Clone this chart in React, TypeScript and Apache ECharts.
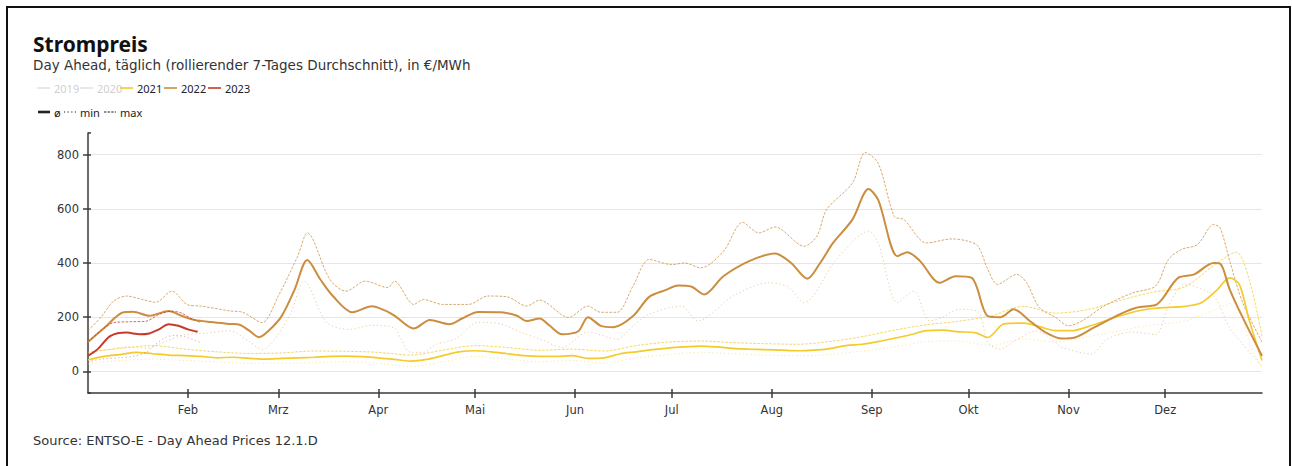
import React, { useEffect, useRef } from 'react';
import * as echarts from 'echarts';

const FONT = '"Noto Sans", "DejaVu Sans", sans-serif';
const WIDE = '"DejaVu Sans", "Noto Sans", sans-serif';
const DAY = 86400000;

const monthLabels = ['Jan', 'Feb', 'Mrz', 'Apr', 'Mai', 'Jun', 'Jul', 'Aug', 'Sep', 'Okt', 'Nov', 'Dez'];
const legendYears = ['2019', '2020', '2021', '2022', '2023'];
const legendActive = [false, false, true, true, true];
const legendKinds = ['ø', 'min', 'max'];

const color2021 = '#f3cb2a';
const color2022 = '#cb8d3e';
const color2023 = '#c93a2a';
const colorInactive = '#e3e3e3';

// [day of year, €/MWh]
const avg2021: [number, number][] = [
  [0, 42], [5, 55], [10, 62], [15, 70], [20, 65], [25, 60], [30, 58], [35, 55], [40, 50], [45, 52],
  [50, 48], [55, 45], [60, 48], [65, 50], [70, 52], [75, 55], [80, 56], [85, 54], [90, 50], [95, 44],
  [100, 38], [105, 44], [110, 58], [115, 72], [120, 76], [125, 72], [130, 65], [135, 58], [140, 55],
  [145, 55], [150, 58], [155, 48], [160, 50], [165, 65], [170, 72], [175, 80], [180, 86], [185, 90],
  [190, 93], [195, 90], [200, 85], [205, 82], [210, 80], [215, 78], [220, 76], [225, 78], [230, 84],
  [235, 95], [240, 100], [245, 110], [250, 122], [255, 135], [260, 150], [265, 152], [270, 146],
  [275, 143], [279, 125], [284, 175], [290, 178], [295, 165], [300, 150], [305, 150], [310, 165],
  [315, 185], [320, 205], [325, 222], [330, 232], [335, 236], [340, 240], [345, 252], [350, 300],
  [354, 345], [357, 320], [360, 190], [364, 40],
];
const min2021: [number, number][] = [
  [0, 28], [10, 40], [20, 45], [30, 40], [40, 35], [50, 30], [60, 30], [70, 32], [80, 35], [90, 30],
  [100, 18], [110, 35], [120, 55], [130, 45], [140, 35], [150, 40], [160, 30], [170, 50], [180, 62],
  [190, 70], [200, 65], [210, 60], [220, 58], [230, 62], [240, 75], [250, 90], [260, 110], [270, 112],
  [280, 95], [290, 120], [300, 108], [310, 128], [320, 150], [330, 172], [340, 185], [350, 230],
  [356, 255], [360, 110], [364, 8],
];
const max2021: [number, number][] = [
  [0, 70], [10, 85], [20, 95], [30, 82], [40, 72], [50, 66], [60, 68], [70, 75], [80, 74], [90, 70],
  [100, 60], [110, 78], [120, 95], [130, 88], [140, 78], [150, 82], [160, 75], [170, 95], [180, 108],
  [190, 112], [200, 106], [210, 102], [220, 100], [230, 110], [240, 128], [250, 152], [260, 172],
  [270, 185], [280, 205], [290, 240], [300, 215], [310, 228], [320, 262], [330, 292], [340, 312],
  [350, 400], [356, 440], [360, 340], [364, 130],
];

const avg2022: [number, number][] = [
  [0, 108], [5, 160], [11, 218], [14, 220], [19, 205], [25, 223], [29, 205], [33, 190], [38, 182],
  [44, 175], [47, 172], [50, 150], [53, 126], [56, 150], [60, 203], [64, 300], [68, 411], [72, 340],
  [76, 277], [82, 218], [88, 240], [92, 225], [95, 206], [101, 158], [106, 190], [112, 174],
  [116, 195], [121, 219], [128, 218], [133, 205], [136, 186], [140, 195], [143, 170], [147, 137],
  [152, 148], [155, 200], [159, 168], [163, 163], [169, 204], [174, 275], [179, 300], [183, 317],
  [187, 313], [191, 284], [197, 351], [205, 407], [213, 435], [218, 400], [223, 342], [227, 400],
  [231, 474], [237, 560], [242, 673], [245, 633], [251, 425], [254, 440], [258, 407], [264, 327],
  [269, 351], [274, 345], [279, 204], [283, 200], [287, 229], [292, 186], [297, 143], [302, 121],
  [306, 125], [312, 162], [320, 211], [325, 235], [331, 245], [333, 266], [338, 345], [343, 358],
  [349, 400], [351, 398], [354, 302], [358, 199], [364, 57],
];
const min2022: [number, number][] = [
  [0, 70], [6, 80], [12, 90], [18, 85], [24, 110], [30, 135], [36, 140], [44, 150], [50, 110],
  [54, 80], [58, 120], [63, 220], [67, 333], [74, 181], [81, 155], [88, 170], [95, 160], [97, 120],
  [100, 70], [104, 70], [108, 100], [114, 120], [121, 181], [128, 175], [135, 140], [140, 120],
  [147, 89], [155, 145], [164, 119], [169, 168], [174, 211], [184, 241], [189, 186], [200, 278],
  [211, 327], [217, 312], [222, 254], [232, 413], [242, 517], [245, 475], [251, 254], [256, 296],
  [261, 186], [265, 200], [270, 229], [276, 220], [279, 107], [283, 82], [287, 110], [294, 149],
  [300, 107], [302, 88], [311, 64], [316, 119], [324, 145], [331, 136], [335, 241], [340, 321],
  [349, 278], [354, 160], [364, 20],
];
const max2022: [number, number][] = [
  [0, 150], [4, 200], [8, 260], [12, 278], [17, 265], [21, 255], [26, 296], [31, 245], [35, 241],
  [44, 223], [48, 218], [54, 180], [59, 278], [65, 425], [68, 511], [75, 339], [80, 296], [86, 333],
  [93, 309], [95, 333], [101, 247], [104, 265], [110, 247], [118, 247], [124, 278], [130, 275],
  [136, 241], [140, 263], [149, 199], [155, 241], [159, 218], [164, 218], [169, 315], [174, 413],
  [181, 394], [185, 400], [190, 382], [197, 443], [203, 550], [208, 511], [213, 533], [222, 462],
  [226, 499], [229, 597], [237, 695], [241, 808], [245, 768], [250, 572], [253, 560], [260, 474],
  [268, 489], [273, 480], [276, 462], [279, 376], [282, 321], [288, 358], [291, 327], [295, 235],
  [300, 199], [304, 168], [309, 192], [315, 241], [324, 290], [331, 315], [335, 413], [339, 450],
  [344, 468], [349, 542], [351, 530], [354, 407], [358, 254], [364, 108],
];

const avg2023: [number, number][] = [
  [0, 57], [3, 82], [7, 131], [12, 143], [16, 137], [19, 140], [22, 155], [25, 174], [28, 168],
  [31, 155], [34, 146],
];
const min2023: [number, number][] = [
  [0, 35], [4, 45], [10, 50], [14, 55], [18, 70], [21, 100], [24, 125], [27, 133], [30, 128],
  [33, 115], [35, 105],
];
const max2023: [number, number][] = [
  [0, 110], [4, 150], [8, 180], [13, 183], [18, 185], [22, 210], [26, 222], [29, 215], [32, 195],
  [35, 180],
];

// day-of-year of each month start (non-leap reference year)
const yearStart = Date.UTC(2022, 0, 1);
const monthStartDays = monthLabels.map((_, m) => Math.round((Date.UTC(2022, m, 1) - yearStart) / DAY));
const tickDays = monthStartDays.slice(1);

type Kind = 'avg' | 'min' | 'max';
const kindStyle: Record<Kind, any> = {
  avg: { width: 2, type: 'solid', opacity: 1 },
  min: { width: 1, type: [1.2, 2.6], opacity: 0.45 },
  max: { width: 1, type: [2.6, 1.4], opacity: 0.75 },
};

function makeSeries(name: string, data: [number, number][], color: string, kind: Kind, z: number, width?: number) {
  const s = kindStyle[kind];
  return {
    type: 'line',
    name,
    data,
    symbol: 'none',
    showSymbol: false,
    smooth: 0.3,
    silent: true,
    z,
    lineStyle: { color, width: width ?? s.width, type: s.type, opacity: s.opacity },
  };
}

const AX = '#3a3a3a';

export default function App() {
  const ref = useRef<HTMLDivElement>(null);

  useEffect(() => {
    if (!ref.current) return;
    const chart = echarts.init(ref.current, null, { renderer: 'svg' });

    const legendX = [37, 80, 120, 164, 208];
    const legendColors = [colorInactive, colorInactive, color2021, color2022, color2023];
    const legendGraphics: any[] = [];
    legendYears.forEach((y, i) => {
      const active = legendActive[i];
      legendGraphics.push({
        type: 'line',
        shape: { x1: legendX[i], y1: 88, x2: legendX[i] + 13, y2: 88 },
        style: { stroke: active ? legendColors[i] : colorInactive, lineWidth: 1.6 },
      });
      legendGraphics.push({
        type: 'text',
        x: legendX[i] + 17,
        y: 88,
        style: {
          text: y,
          font: `11px ${FONT}`,
          fill: active ? '#222' : '#cfcfcf',
          verticalAlign: 'middle',
        },
      });
    });
    const kindX = [38, 64, 104];
    const kindDash: any[] = [null, [1.2, 2.4], [2.4, 1.2]];
    legendKinds.forEach((k, i) => {
      legendGraphics.push({
        type: 'line',
        shape: { x1: kindX[i], y1: 112, x2: kindX[i] + 12, y2: 112 },
        style: { stroke: '#222', lineWidth: i === 0 ? 2.6 : 1.2, lineDash: kindDash[i] },
      });
      legendGraphics.push({
        type: 'text',
        x: kindX[i] + 16,
        y: 112,
        style: { text: k, font: `11px ${FONT}`, fill: '#222', verticalAlign: 'middle' },
      });
    });

    const xBase = {
      type: 'value',
      min: 0,
      max: 364,
      position: 'bottom',
      splitLine: { show: false },
    };
    const yBase = {
      type: 'value',
      min: -80,
      max: 880,
      splitNumber: 5,
      position: 'left',
    };

    const option: any = {
      animation: false,
      backgroundColor: '#fff',
      grid: { left: 88, right: 30, top: 133, bottom: 73, containLabel: false },
      xAxis: [
        {
          ...xBase,
          axisLine: { show: true, onZero: false, lineStyle: { color: AX, width: 1.5 } },
          axisTick: {
            show: true,
            length: 5,
            customValues: tickDays,
            lineStyle: { color: AX, width: 1.5 },
          },
          axisLabel: {
            customValues: tickDays,
            formatter: (v: number) => monthLabels[monthStartDays.indexOf(Math.round(v))] ?? '',
            color: '#333',
            fontSize: 11.5,
            fontFamily: WIDE,
            margin: 11,
            hideOverlap: false,
          },
        },
        {
          ...xBase,
          axisLine: { show: false, onZero: false },
          axisTick: {
            show: true,
            inside: true,
            length: 4,
            customValues: tickDays,
            lineStyle: { color: AX, width: 1.5 },
          },
          axisLabel: { show: false },
        },
      ],
      yAxis: [
        {
          ...yBase,
          axisLine: { show: true, lineStyle: { color: AX, width: 1.5 } },
          axisTick: { show: true, length: 5, lineStyle: { color: AX, width: 1.5 } },
          axisLabel: {
            color: '#333',
            fontSize: 11.5,
            fontFamily: WIDE,
            margin: 9,
            showMinLabel: false,
            showMaxLabel: false,
          },
          splitLine: {
            show: true,
            showMinLine: false,
            showMaxLine: false,
            lineStyle: { color: '#e6e6e6', width: 1 },
          },
        },
        {
          ...yBase,
          axisLine: { show: false },
          axisTick: { show: true, inside: true, length: 3, lineStyle: { color: AX, width: 1.5 } },
          axisLabel: { show: false },
          splitLine: { show: false },
        },
      ],
      series: [
        makeSeries('2021 min', min2021, color2021, 'min', 1),
        makeSeries('2021 max', max2021, color2021, 'max', 1),
        makeSeries('2022 min', min2022, color2022, 'min', 2),
        makeSeries('2022 max', max2022, color2022, 'max', 2),
        makeSeries('2021 ø', avg2021, color2021, 'avg', 3, 1.7),
        makeSeries('2022 ø', avg2022, color2022, 'avg', 4),
        makeSeries('2023 min', min2023, color2023, 'min', 5),
        makeSeries('2023 max', max2023, color2023, 'max', 5),
        makeSeries('2023 ø', avg2023, color2023, 'avg', 6),
      ],
      graphic: [
        {
          type: 'rect',
          shape: { x: 7, y: 7, width: 1283, height: 520 },
          style: { fill: 'none', stroke: '#111', lineWidth: 2 },
          silent: true,
        },
        {
          type: 'text',
          x: 33,
          y: 44,
          style: { text: 'Strompreis', font: `bold 21px ${FONT}`, fill: '#111', verticalAlign: 'middle' },
        },
        {
          type: 'text',
          x: 33,
          y: 65,
          style: {
            text: 'Day Ahead, täglich (rollierender 7-Tages Durchschnitt), in €/MWh',
            font: `13.5px ${WIDE}`,
            fill: '#333',
            verticalAlign: 'middle',
          },
        },
        ...legendGraphics,
        {
          type: 'text',
          x: 33,
          y: 440,
          style: {
            text: 'Source: ENTSO-E - Day Ahead Prices 12.1.D',
            font: `13px ${WIDE}`,
            fill: '#333',
            verticalAlign: 'middle',
          },
        },
      ],
    };

    chart.setOption(option);
    return () => chart.dispose();
  }, []);

  return (
    <div
      ref={ref}
      style={{ position: 'absolute', left: 0, top: 0, width: 1292, height: 466, overflow: 'hidden' }}
    />
  );
}
